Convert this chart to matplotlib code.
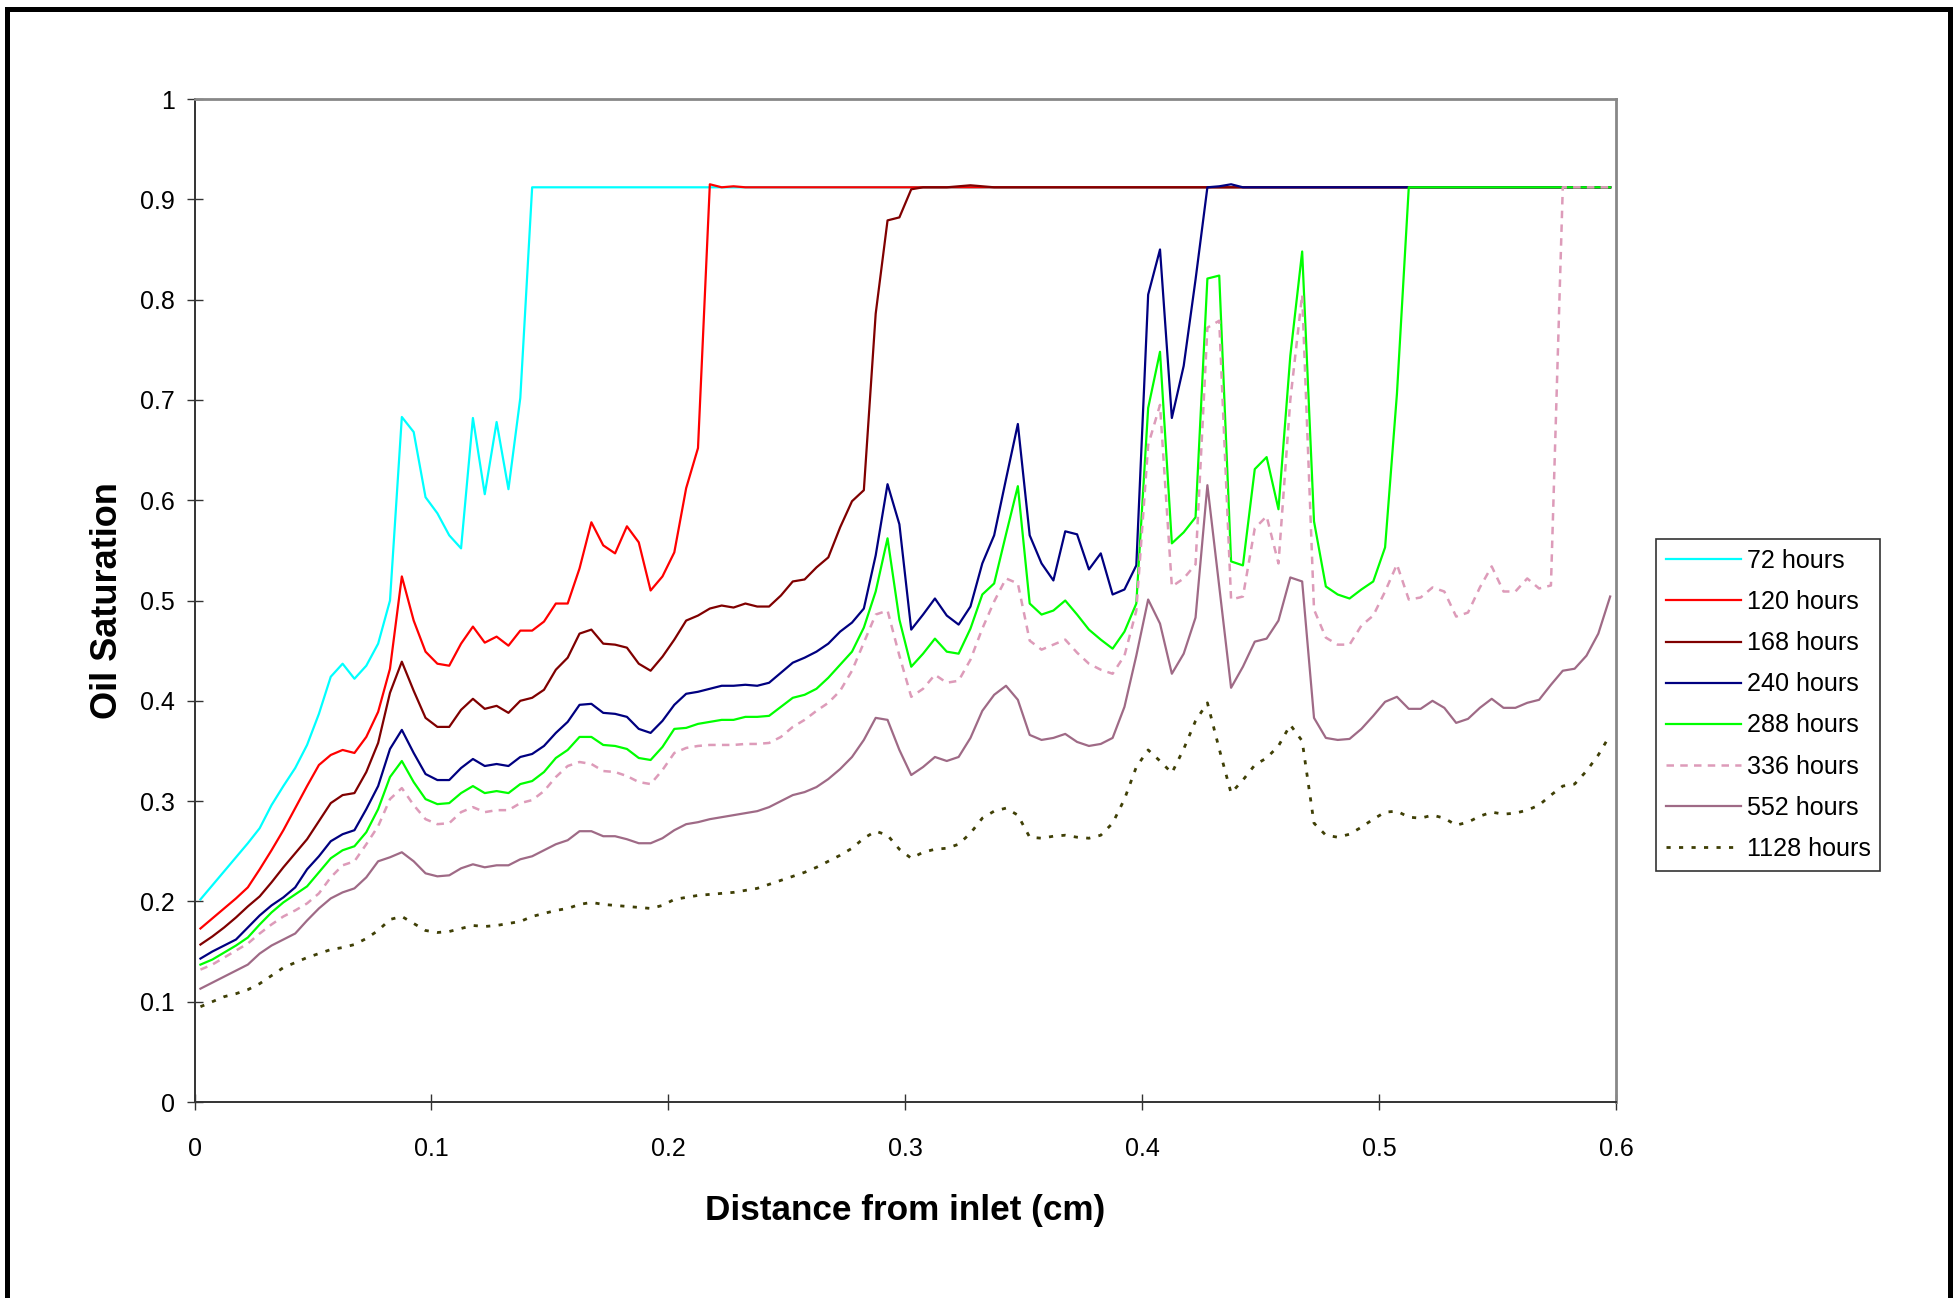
import numpy as np
import matplotlib
matplotlib.use('Agg')
import matplotlib.pyplot as plt
from matplotlib.patches import Rectangle

plt.rcParams['font.family'] = ['Liberation Sans', 'DejaVu Sans']

# grid cell centres along the core (cm), 120 cells over 0.6 cm
distance = np.round(0.0025 + 0.005 * np.arange(120), 4)

# oil saturation profiles
sat_72 = [0.202, 0.216, 0.230, 0.244, 0.258, 0.273, 0.296, 0.315, 0.333, 0.356,
          0.387, 0.424, 0.437, 0.422, 0.435, 0.457, 0.500, 0.683, 0.668, 0.603,
          0.587, 0.565, 0.552, 0.682, 0.606, 0.678, 0.611, 0.702, 0.912, 0.912,
          0.912, 0.912, 0.912, 0.912, 0.912, 0.912, 0.912, 0.912, 0.912, 0.912,
          0.912, 0.912, 0.912, 0.912, 0.912, 0.912, 0.912, 0.912, 0.912, 0.912,
          0.912, 0.912, 0.912, 0.912, 0.912, 0.912, 0.912, 0.912, 0.912, 0.912,
          0.912, 0.912, 0.912, 0.912, 0.912, 0.912, 0.912, 0.912, 0.912, 0.912,
          0.912, 0.912, 0.912, 0.912, 0.912, 0.912, 0.912, 0.912, 0.912, 0.912,
          0.912, 0.912, 0.912, 0.912, 0.912, 0.912, 0.912, 0.912, 0.912, 0.912,
          0.912, 0.912, 0.912, 0.912, 0.912, 0.912, 0.912, 0.912, 0.912, 0.912,
          0.912, 0.912, 0.912, 0.912, 0.912, 0.912, 0.912, 0.912, 0.912, 0.912,
          0.912, 0.912, 0.912, 0.912, 0.912, 0.912, 0.912, 0.912, 0.912, 0.912]

sat_120 = [0.173, 0.183, 0.193, 0.203, 0.214, 0.232, 0.251, 0.271, 0.293, 0.315,
           0.336, 0.346, 0.351, 0.348, 0.364, 0.389, 0.432, 0.524, 0.480, 0.449,
           0.437, 0.435, 0.457, 0.474, 0.458, 0.464, 0.455, 0.470, 0.470, 0.479,
           0.497, 0.497, 0.532, 0.578, 0.555, 0.547, 0.574, 0.558, 0.510, 0.524,
           0.548, 0.612, 0.652, 0.915, 0.912, 0.913, 0.912, 0.912, 0.912, 0.912,
           0.912, 0.912, 0.912, 0.912, 0.912, 0.912, 0.912, 0.912, 0.912, 0.912,
           0.912, 0.912, 0.912, 0.912, 0.912, 0.912, 0.912, 0.912, 0.912, 0.912,
           0.912, 0.912, 0.912, 0.912, 0.912, 0.912, 0.912, 0.912, 0.912, 0.912,
           0.912, 0.912, 0.912, 0.912, 0.912, 0.912, 0.912, 0.912, 0.912, 0.912,
           0.912, 0.912, 0.912, 0.912, 0.912, 0.912, 0.912, 0.912, 0.912, 0.912,
           0.912, 0.912, 0.912, 0.912, 0.912, 0.912, 0.912, 0.912, 0.912, 0.912,
           0.912, 0.912, 0.912, 0.912, 0.912, 0.912, 0.912, 0.912, 0.912, 0.912]

sat_168 = [0.157, 0.165, 0.174, 0.184, 0.195, 0.205, 0.219, 0.234, 0.248, 0.262,
           0.280, 0.298, 0.306, 0.308, 0.329, 0.358, 0.408, 0.439, 0.410, 0.383,
           0.374, 0.374, 0.391, 0.402, 0.392, 0.395, 0.388, 0.400, 0.403, 0.411,
           0.431, 0.443, 0.467, 0.471, 0.457, 0.456, 0.453, 0.437, 0.430, 0.444,
           0.461, 0.480, 0.485, 0.492, 0.495, 0.493, 0.497, 0.494, 0.494, 0.505,
           0.519, 0.521, 0.533, 0.543, 0.573, 0.599, 0.610, 0.786, 0.879, 0.882,
           0.910, 0.912, 0.912, 0.912, 0.913, 0.914, 0.913, 0.912, 0.912, 0.912,
           0.912, 0.912, 0.912, 0.912, 0.912, 0.912, 0.912, 0.912, 0.912, 0.912,
           0.912, 0.912, 0.912, 0.912, 0.912, 0.912, 0.912, 0.912, 0.912, 0.912,
           0.912, 0.912, 0.912, 0.912, 0.912, 0.912, 0.912, 0.912, 0.912, 0.912,
           0.912, 0.912, 0.912, 0.912, 0.912, 0.912, 0.912, 0.912, 0.912, 0.912,
           0.912, 0.912, 0.912, 0.912, 0.912, 0.912, 0.912, 0.912, 0.912, 0.912]

sat_240 = [0.143, 0.150, 0.156, 0.162, 0.174, 0.186, 0.196, 0.204, 0.214, 0.232,
           0.245, 0.260, 0.267, 0.271, 0.292, 0.315, 0.352, 0.371, 0.348, 0.327,
           0.321, 0.321, 0.333, 0.342, 0.335, 0.337, 0.335, 0.344, 0.347, 0.355,
           0.368, 0.379, 0.396, 0.397, 0.388, 0.387, 0.384, 0.372, 0.368, 0.380,
           0.396, 0.407, 0.409, 0.412, 0.415, 0.415, 0.416, 0.415, 0.418, 0.428,
           0.438, 0.443, 0.449, 0.457, 0.469, 0.478, 0.492, 0.545, 0.616, 0.576,
           0.471, 0.486, 0.502, 0.485, 0.476, 0.494, 0.537, 0.565, 0.621, 0.676,
           0.565, 0.537, 0.520, 0.569, 0.566, 0.531, 0.547, 0.506, 0.511, 0.535,
           0.805, 0.850, 0.682, 0.734, 0.820, 0.912, 0.913, 0.915, 0.912, 0.912,
           0.912, 0.912, 0.912, 0.912, 0.912, 0.912, 0.912, 0.912, 0.912, 0.912,
           0.912, 0.912, 0.912, 0.912, 0.912, 0.912, 0.912, 0.912, 0.912, 0.912,
           0.912, 0.912, 0.912, 0.912, 0.912, 0.912, 0.912, 0.912, 0.912, 0.912]

sat_288 = [0.137, 0.142, 0.149, 0.156, 0.164, 0.177, 0.189, 0.199, 0.207, 0.215,
           0.229, 0.243, 0.251, 0.255, 0.269, 0.292, 0.324, 0.340, 0.319, 0.302,
           0.297, 0.298, 0.308, 0.315, 0.308, 0.310, 0.308, 0.317, 0.320, 0.329,
           0.343, 0.351, 0.364, 0.364, 0.356, 0.355, 0.352, 0.343, 0.341, 0.354,
           0.372, 0.373, 0.377, 0.379, 0.381, 0.381, 0.384, 0.384, 0.385, 0.394,
           0.403, 0.406, 0.412, 0.423, 0.436, 0.449, 0.473, 0.509, 0.562, 0.481,
           0.434, 0.447, 0.462, 0.449, 0.447, 0.472, 0.506, 0.517, 0.566, 0.614,
           0.497, 0.486, 0.490, 0.500, 0.486, 0.471, 0.461, 0.452, 0.469, 0.497,
           0.692, 0.748, 0.557, 0.568, 0.583, 0.821, 0.824, 0.539, 0.535, 0.631,
           0.643, 0.591, 0.744, 0.848, 0.579, 0.514, 0.506, 0.502, 0.511, 0.519,
           0.553, 0.706, 0.912, 0.912, 0.912, 0.912, 0.912, 0.912, 0.912, 0.912,
           0.912, 0.912, 0.912, 0.912, 0.912, 0.912, 0.912, 0.912, 0.912, 0.912]

sat_336 = [0.132, 0.137, 0.144, 0.151, 0.158, 0.168, 0.177, 0.185, 0.191, 0.198,
           0.208, 0.224, 0.236, 0.240, 0.257, 0.275, 0.302, 0.313, 0.296, 0.282,
           0.277, 0.278, 0.289, 0.294, 0.289, 0.291, 0.291, 0.298, 0.301, 0.310,
           0.324, 0.335, 0.339, 0.337, 0.330, 0.329, 0.325, 0.319, 0.317, 0.331,
           0.348, 0.353, 0.355, 0.356, 0.356, 0.356, 0.357, 0.357, 0.358, 0.364,
           0.374, 0.381, 0.390, 0.398, 0.410, 0.430, 0.458, 0.486, 0.490, 0.445,
           0.404, 0.412, 0.426, 0.418, 0.420, 0.441, 0.472, 0.499, 0.522, 0.517,
           0.460, 0.451, 0.456, 0.461, 0.448, 0.437, 0.431, 0.427, 0.445, 0.490,
           0.655, 0.695, 0.514, 0.522, 0.536, 0.772, 0.779, 0.501, 0.504, 0.572,
           0.584, 0.537, 0.700, 0.805, 0.491, 0.463, 0.456, 0.456, 0.475, 0.485,
           0.509, 0.536, 0.501, 0.503, 0.513, 0.509, 0.484, 0.488, 0.513, 0.534,
           0.509, 0.509, 0.522, 0.512, 0.515, 0.912, 0.912, 0.912, 0.912, 0.912]

sat_552 = [0.113, 0.119, 0.125, 0.131, 0.137, 0.148, 0.156, 0.162, 0.168, 0.181,
           0.193, 0.203, 0.209, 0.213, 0.224, 0.240, 0.244, 0.249, 0.240, 0.228,
           0.225, 0.226, 0.233, 0.237, 0.234, 0.236, 0.236, 0.242, 0.245, 0.251,
           0.257, 0.261, 0.270, 0.270, 0.265, 0.265, 0.262, 0.258, 0.258, 0.263,
           0.271, 0.277, 0.279, 0.282, 0.284, 0.286, 0.288, 0.290, 0.294, 0.300,
           0.306, 0.309, 0.314, 0.322, 0.332, 0.344, 0.361, 0.383, 0.381, 0.351,
           0.326, 0.334, 0.344, 0.340, 0.344, 0.363, 0.390, 0.406, 0.415, 0.401,
           0.366, 0.361, 0.363, 0.367, 0.359, 0.355, 0.357, 0.363, 0.394, 0.445,
           0.501, 0.477, 0.427, 0.447, 0.483, 0.615, 0.514, 0.413, 0.434, 0.459,
           0.462, 0.480, 0.523, 0.519, 0.383, 0.363, 0.361, 0.362, 0.372, 0.385,
           0.399, 0.404, 0.392, 0.392, 0.400, 0.393, 0.378, 0.382, 0.393, 0.402,
           0.393, 0.393, 0.398, 0.401, 0.416, 0.430, 0.432, 0.445, 0.467, 0.504]

sat_1128 = [0.095, 0.100, 0.105, 0.108, 0.112, 0.118, 0.126, 0.134, 0.139, 0.144,
            0.148, 0.152, 0.154, 0.157, 0.163, 0.171, 0.182, 0.185, 0.178, 0.171,
            0.169, 0.170, 0.173, 0.176, 0.175, 0.176, 0.178, 0.180, 0.185, 0.188,
            0.191, 0.193, 0.197, 0.199, 0.197, 0.196, 0.195, 0.194, 0.193, 0.196,
            0.202, 0.204, 0.206, 0.207, 0.208, 0.209, 0.211, 0.213, 0.217, 0.221,
            0.225, 0.229, 0.234, 0.240, 0.246, 0.253, 0.263, 0.270, 0.266, 0.252,
            0.243, 0.249, 0.252, 0.253, 0.257, 0.268, 0.283, 0.290, 0.293, 0.286,
            0.264, 0.263, 0.265, 0.266, 0.264, 0.263, 0.266, 0.278, 0.302, 0.334,
            0.351, 0.340, 0.328, 0.352, 0.380, 0.398, 0.352, 0.308, 0.321, 0.336,
            0.343, 0.355, 0.376, 0.360, 0.278, 0.266, 0.264, 0.267, 0.274, 0.282,
            0.289, 0.290, 0.284, 0.283, 0.286, 0.283, 0.276, 0.279, 0.285, 0.289,
            0.287, 0.288, 0.291, 0.296, 0.306, 0.315, 0.317, 0.330, 0.346, 0.366]

series = [sat_72, sat_120, sat_168, sat_240, sat_288, sat_336, sat_552, sat_1128]
labels = ['72 hours', '120 hours', '168 hours', '240 hours', '288 hours',
          '336 hours', '552 hours', '1128 hours']
colors = ['#00ffff', '#ff0000', '#800000', '#000080', '#00ff00',
          '#dd9bb9', '#9f6a86', '#3f3f05']
styles = ['-', '-', '-', '-', '-', (0, (3, 2.5)), '-', (0, (1.5, 3))]
widths = [1.6, 1.6, 1.6, 1.6, 1.6, 1.8, 1.6, 2.0]

x_ticks = [0, 0.1, 0.2, 0.3, 0.4, 0.5, 0.6]
x_tick_labels = ['0', '0.1', '0.2', '0.3', '0.4', '0.5', '0.6']
y_ticks = [0, 0.1, 0.2, 0.3, 0.4, 0.5, 0.6, 0.7, 0.8, 0.9, 1]
y_tick_labels = ['0', '0.1', '0.2', '0.3', '0.4', '0.5', '0.6', '0.7', '0.8', '0.9', '1']

fig = plt.figure(figsize=(19.57, 12.98), dpi=100)
ax = fig.add_axes([0.0994, 0.151, 0.7264, 0.7727])

for y, lab, c, ls, lw in zip(series, labels, colors, styles, widths):
    ax.plot(distance, y, color=c, linestyle=ls, linewidth=lw, label=lab)

ax.set_xlim(0, 0.6)
ax.set_ylim(0, 1)
ax.set_xticks(x_ticks)
ax.set_xticklabels(x_tick_labels)
ax.set_yticks(y_ticks)
ax.set_yticklabels(y_tick_labels)
ax.tick_params(direction='inout', length=11.5, width=1.0, color='#333333',
               labelsize=18, labelcolor='black')
ax.tick_params(axis='x', pad=19.5)
ax.tick_params(axis='y', pad=8.5)

# Excel-style plot area: dark left/bottom axes, grey border on top/right
for side in ['left', 'bottom']:
    ax.spines[side].set_color('#333333')
    ax.spines[side].set_linewidth(1.4)
for side in ['top', 'right']:
    ax.spines[side].set_color('#888888')
    ax.spines[side].set_linewidth(2.0)

ax.set_xlabel('Distance from inlet (cm)', fontsize=25.3, fontweight='bold', labelpad=24)
ax.set_ylabel('Oil Saturation', fontsize=26, fontweight='bold', labelpad=11)

leg = fig.legend(loc='upper left', bbox_to_anchor=(0.8462, 0.5847),
                 bbox_transform=fig.transFigure, fontsize=18.1, frameon=True,
                 fancybox=False, shadow=False, framealpha=1, edgecolor='#333333',
                 handlelength=3.0, handletextpad=0.2, borderpad=0.4,
                 labelspacing=0.68, borderaxespad=0)
leg.get_frame().set_linewidth(1.2)

# thick black frame around the whole chart (bottom edge falls outside)
frame = Rectangle((0.00383, -0.05), 0.99259, 1.04345, transform=fig.transFigure,
                  fill=False, edgecolor='black', linewidth=3.6, clip_on=False)
fig.add_artist(frame)

fig.savefig('out.png', dpi=100)
